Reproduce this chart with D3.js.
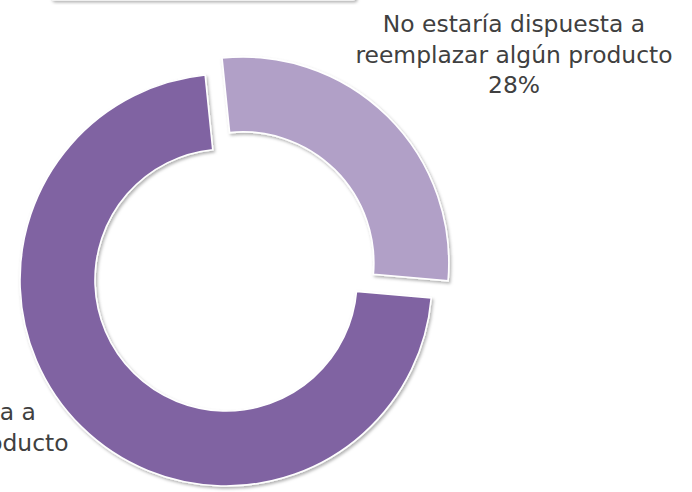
<!DOCTYPE html>
<html lang="es">
<head>
    <meta charset="UTF-8">
    <title>Donut</title>
    <script src="https://cdn.jsdelivr.net/npm/d3@7"></script>
    <style>
        body { margin: 0; background: #fff; }
        svg { display: block; }
    </style>
</head>
<body>
<script>
    // datos
    var categories = ["No estaría dispuesta a reemplazar algún producto", "Sí estaría dispuesta a reemplazar algún producto"];
    var labelLines = [["No estaría dispuesta a", "reemplazar algún producto"], ["Sí estaría dispuesta a", "reemplazar algún producto"]];
    var values = [28, 72];
    var colors = ["#B1A0C7", "#8064A2"];

    var width = 692, height = 492;
    var cx = 226, cy = 280;
    var outerR = 206, innerR = 131;
    var explode = [24, 0];   // solo se separa la porción pequeña

    var svg = d3.select("body").append("svg")
        .attr("width", width)
        .attr("height", height);

    // sombra suave
    var defs = svg.append("defs");
    var f = defs.append("filter").attr("id", "sh")
        .attr("x", "-20%").attr("y", "-20%").attr("width", "140%").attr("height", "140%");
    f.append("feDropShadow")
        .attr("dx", 1.5).attr("dy", 2)
        .attr("stdDeviation", 1.8)
        .attr("flood-color", "#000")
        .attr("flood-opacity", 0.3);

    // caja del título (cortada arriba)
    svg.append("rect")
        .attr("x", 51).attr("y", -20)
        .attr("width", 305).attr("height", 20.5)
        .attr("rx", 3)
        .attr("fill", "#fff")
        .attr("filter", "url(#sh)");

    var total = d3.sum(values);
    var pie = d3.pie()
        .sort(null)
        .startAngle(-5.8 * Math.PI / 180)
        .endAngle(-5.8 * Math.PI / 180 + 2 * Math.PI);

    var arc = d3.arc().innerRadius(innerR).outerRadius(outerR);

    var arcs = pie(values);

    var g = svg.append("g").attr("transform", "translate(" + cx + "," + cy + ")");

    g.selectAll("path")
        .data(arcs)
        .enter()
        .append("path")
        .attr("d", arc)
        .attr("fill", function (d, i) { return colors[i]; })
        .attr("stroke", "#fff")
        .attr("stroke-width", 1.6)
        .attr("filter", "url(#sh)")
        .attr("transform", function (d, i) {
            var a = (d.startAngle + d.endAngle) / 2;
            return "translate(" + (Math.sin(a) * explode[i]) + "," + (-Math.cos(a) * explode[i]) + ")";
        });

    // etiquetas
    var labelPos = [[514, 32], [-90, 420]];
    var lineH = 30.5;

    labelPos.forEach(function (p, i) {
        var t = svg.append("text")
            .attr("x", p[0])
            .attr("y", p[1])
            .attr("text-anchor", "middle")
            .attr("fill", "#404040")
            .style("font-family", "'DejaVu Sans', Verdana, sans-serif")
            .style("font-size", "23.4px");
        var lines = labelLines[i].concat([Math.round(values[i] / total * 100) + "%"]);
        lines.forEach(function (s, k) {
            t.append("tspan")
                .attr("x", p[0])
                .attr("y", p[1] + k * lineH)
                .text(s);
        });
    });
</script>
</body>
</html>
